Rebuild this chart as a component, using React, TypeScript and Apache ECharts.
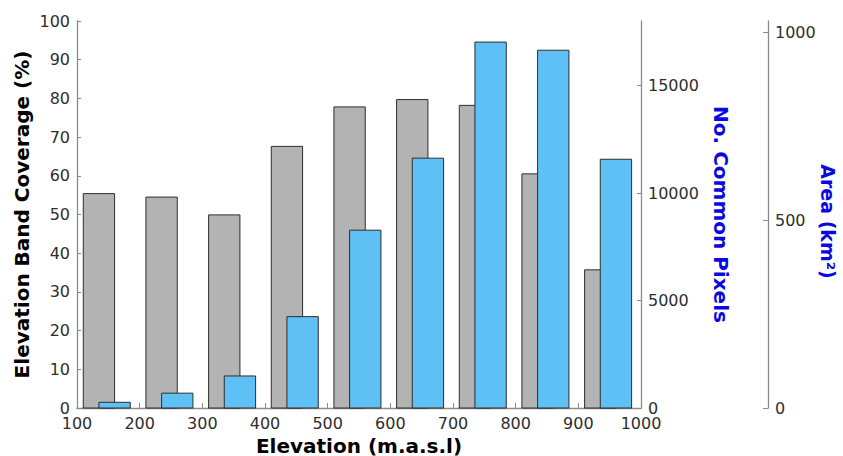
import React, { useEffect, useRef } from "react";
import * as echarts from "echarts";

// Elevation band lower edges (m.a.s.l)
const bandStarts = [100, 200, 300, 400, 500, 600, 700, 800, 900];
// Elevation band coverage (%)
const coverage = [55.4, 54.5, 49.9, 67.6, 77.8, 79.7, 78.2, 60.5, 35.7];
// Number of common pixels
const commonPixels = [265, 690, 1490, 4250, 8270, 11620, 17020, 16640, 11570];
// Tick values
const pixelTicks = [0, 5000, 10000, 15000];
const areaTicks = [0, 500, 1000];

const FONT = "DejaVu Sans";
const AXIS_COLOR = "#8a8a8a";
const LABEL_COLOR = "#2e2e2e";
const TITLE_BLUE = "#0a0ae0";

function barRenderer(offsetStart: number, offsetEnd: number, fill: string) {
  return (params: any, api: any) => {
    const x = api.value(0);
    const v = api.value(1);
    const p0 = api.coord([x + offsetStart, v]);
    const p1 = api.coord([x + offsetEnd, 0]);
    return {
      type: "rect",
      shape: {
        x: p0[0],
        y: p0[1],
        width: p1[0] - p0[0],
        height: p1[1] - p0[1],
      },
      style: { fill, stroke: "#2e2e2e", lineWidth: 1 },
    };
  };
}

const plain = (v: number) => String(v);

export default function App() {
  const ref = useRef<HTMLDivElement>(null);

  useEffect(() => {
    document.body.style.margin = "0";
    if (!ref.current) return;
    const chart = echarts.init(ref.current, null, { renderer: "svg" });
    const labelStyle = { color: LABEL_COLOR, fontSize: 16, fontFamily: FONT, formatter: plain };
    const option: any = {
      animation: false,
      backgroundColor: "#ffffff",
      grid: {
        left: 77,
        right: 202,
        top: 21,
        bottom: 48,
        containLabel: false,
        outerBoundsMode: "none",
      },
      xAxis: {
        type: "value",
        min: 100,
        max: 1000,
        interval: 100,
        name: "Elevation (m.a.s.l)",
        nameLocation: "middle",
        nameGap: 28,
        nameMoveOverlap: false,
        nameTextStyle: { fontFamily: FONT, fontWeight: "bold", fontSize: 20, color: "#000" },
        axisLine: { show: true, lineStyle: { color: AXIS_COLOR, width: 1.3 } },
        axisTick: { show: true, inside: true, length: 5, lineStyle: { color: AXIS_COLOR } },
        axisLabel: { ...labelStyle, margin: 7 },
        splitLine: { show: false },
      },
      yAxis: [
        {
          type: "value",
          position: "left",
          min: 0,
          max: 100,
          interval: 10,
          name: "Elevation Band Coverage (%)",
          nameLocation: "middle",
          nameGap: 45,
          nameMoveOverlap: false,
          nameTextStyle: { fontFamily: FONT, fontWeight: "bold", fontSize: 20, color: "#000" },
          axisLine: { show: true, lineStyle: { color: AXIS_COLOR, width: 1.3 } },
          axisTick: { show: true, inside: true, length: 4, lineStyle: { color: AXIS_COLOR } },
          axisLabel: { ...labelStyle, margin: 7 },
          splitLine: { show: false },
        },
        {
          type: "value",
          position: "right",
          min: 0,
          max: 18000,
          name: "No. Common Pixels",
          nameLocation: "middle",
          nameGap: 70,
          nameMoveOverlap: false,
          nameRotate: -90,
          nameTextStyle: { fontFamily: FONT, fontWeight: "bold", fontSize: 20, color: TITLE_BLUE },
          axisLine: { show: true, lineStyle: { color: AXIS_COLOR, width: 1.3 } },
          axisTick: {
            show: true,
            inside: true,
            length: 4,
            customValues: pixelTicks,
            lineStyle: { color: AXIS_COLOR },
          },
          axisLabel: { ...labelStyle, margin: 7, customValues: pixelTicks },
          splitLine: { show: false },
        },
        {
          type: "value",
          position: "right",
          offset: 127,
          min: 0,
          max: 1030,
          name: "Area (km²)",
          nameLocation: "middle",
          nameGap: 50,
          nameMoveOverlap: false,
          nameRotate: -90,
          nameTextStyle: {
            fontFamily: FONT,
            fontWeight: "bold",
            fontSize: 19,
            color: TITLE_BLUE,
            padding: [0, 0, 0, 14],
          },
          axisLine: { show: true, lineStyle: { color: AXIS_COLOR, width: 1.3 } },
          axisTick: {
            show: true,
            inside: true,
            length: 5,
            customValues: areaTicks,
            lineStyle: { color: AXIS_COLOR },
          },
          axisLabel: { ...labelStyle, margin: 7, customValues: areaTicks },
          splitLine: { show: false },
        },
      ],
      series: [
        {
          type: "custom",
          name: "Coverage",
          xAxisIndex: 0,
          yAxisIndex: 0,
          encode: { x: 0, y: 1 },
          data: bandStarts.map((b, i) => [b, coverage[i]]),
          renderItem: barRenderer(10, 60, "#b3b3b3"),
        },
        {
          type: "custom",
          name: "Common Pixels",
          xAxisIndex: 0,
          yAxisIndex: 1,
          encode: { x: 0, y: 1 },
          data: bandStarts.map((b, i) => [b, commonPixels[i]]),
          renderItem: barRenderer(35, 85, "#5ec0f4"),
        },
      ],
    };
    chart.setOption(option);
    return () => chart.dispose();
  }, []);

  return <div ref={ref} style={{ width: 843, height: 456 }} />;
}
